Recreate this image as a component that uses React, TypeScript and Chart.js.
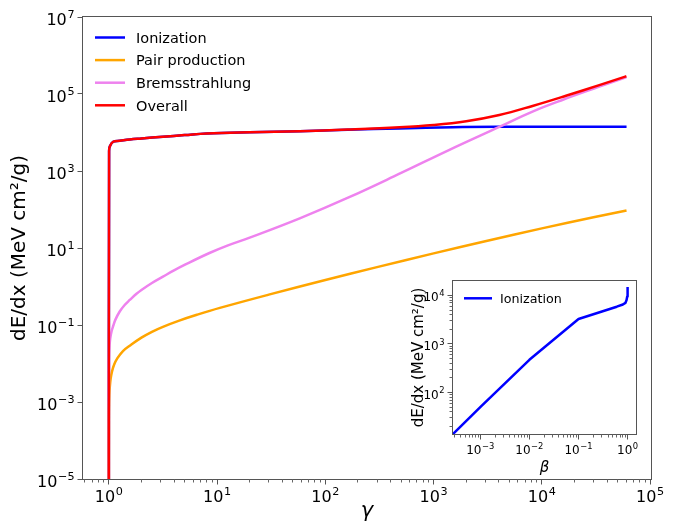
import React, { useEffect, useRef } from 'react';
import { Chart, registerables } from 'chart.js';

Chart.register(...registerables);

// ---------------- data ----------------
const ionizationGamma = [1, 1.005, 1.02, 1.096, 1.26, 1.56, 2.0, 3.16, 5.0, 8, 20, 58, 160, 484, 1500, 4000, 59000];
const ionizationValues = [1e-6, 3300, 4300, 5750, 6070, 6600, 7000, 7760, 8550, 9440, 10200, 10800, 11800, 12700, 13700, 14000, 14000];

const pairGamma = [1, 1.002, 1.005, 1.01, 1.021, 1.04, 1.07, 1.12, 1.2, 1.35, 1.56, 2.0, 2.5, 3.16, 4.47, 6.5, 10.6, 30, 100, 300, 1000, 3000, 10000, 30000, 59000];
const pairValues = [1e-6, 4.3e-4, 8.5e-4, 1.44e-3, 2.5e-3, 4.1e-3, 6.25e-3, 9.4e-3, 0.0138, 0.0211, 0.029, 0.047, 0.0667, 0.0897, 0.13, 0.184, 0.278, 0.614, 1.48, 3.19, 7.24, 15.0, 32.3, 63, 93];

const bremsGamma = [1, 1.003, 1.007, 1.015, 1.03, 1.06, 1.1, 1.15, 1.26, 1.4, 1.56, 1.8, 2.0, 2.5, 3.16, 4.0, 5.0, 8.5, 12.6, 20, 58, 166, 484, 1400, 4046, 8200, 15850, 33900, 58900];
const bremsValues = [1e-6, 0.0108, 0.018, 0.029, 0.045, 0.069, 0.097, 0.138, 0.224, 0.331, 0.447, 0.646, 0.813, 1.236, 1.8, 2.62, 3.63, 7.41, 11.7, 18.6, 59, 209, 850, 3550, 14000, 35000, 72000, 155000, 269000];

const overallGamma = [1, 1.005, 1.02, 1.096, 1.26, 1.56, 2.0, 3.16, 5.0, 8, 20, 58, 160, 484, 1000, 2000, 4046, 8200, 16700, 33900, 58900];
const overallValues = [1e-6, 3300, 4300, 5750, 6070, 6600, 7000, 7760, 8550, 9440, 10200, 10850, 11900, 13600, 15650, 19600, 28500, 49000, 90000, 170000, 283000];

const insetBeta = [2.786e-4, 1e-3, 0.01, 0.1, 0.3, 0.6, 0.8, 0.9, 0.95, 0.98, 0.99, 0.999, 0.9999, 0.99999];
const insetValues = [14, 50, 472, 3260, 4660, 5850, 6500, 7000, 8000, 9500, 10500, 12600, 13700, 14000];

// axis limits and tick exponents
const mainXMin = 0.577;
const mainXMax = 1.019e5;
const mainYMin = 1e-5;
const mainYMax = 1e7;
const mainXTickExps = [0, 1, 2, 3, 4, 5];
const mainYTickExps = [-5, -3, -1, 1, 3, 5, 7];

const insetXMin = 2.786e-4;
const insetXMax = 1.479;
const insetYMin = 14;
const insetYMax = 19770;
const insetXTickExps = [-3, -2, -1, 0];
const insetYTickExps = [2, 3, 4];

const seriesNames = ['Ionization', 'Pair production', 'Bremsstrahlung', 'Overall'];
const seriesColors = ['#0000ff', '#ffa500', '#ee82ee', '#ff0000'];

const FONT = '"DejaVu Sans", sans-serif';

function toPoints(xs: number[], ys: number[]) {
  return xs.map((x, i) => ({ x, y: ys[i] }));
}

function drawPow10(ctx: CanvasRenderingContext2D, exp: number, x: number, baseline: number, size: number, align: 'center' | 'right') {
  const base = '10';
  const sup = exp < 0 ? '\u2212' + String(-exp) : String(exp);
  const supSize = size * 0.7;
  ctx.font = `${size}px ${FONT}`;
  const wb = ctx.measureText(base).width;
  ctx.font = `${supSize}px ${FONT}`;
  const ws = ctx.measureText(sup).width;
  const gap = size * 0.04;
  const total = wb + gap + ws;
  const left = align === 'center' ? x - total / 2 : x - total;
  ctx.textAlign = 'left';
  ctx.textBaseline = 'alphabetic';
  ctx.fillStyle = '#000';
  ctx.font = `${size}px ${FONT}`;
  ctx.fillText(base, left, baseline);
  ctx.font = `${supSize}px ${FONT}`;
  ctx.fillText(sup, left + wb + gap, baseline - size * 0.42);
}

type AxesCfg = {
  xExps: number[];
  yExps: number[];
  xMinor: boolean;
  yMinor: boolean;
  tickSize: number;
  xLabelDy: number;
  yLabelDy: number;
  yLabelPad: number;
  majorLen: number;
  minorLen: number;
  xTitle: string;
  xTitleFont: string;
  xTitleBaseline: number;
  yTitle: string;
  yTitleFont: string;
  yTitleX: number;
  legend: { names: string[]; colors: string[]; x0: number; x1: number; y0: number; dy: number; textX: number; font: number };
  fillBg: boolean;
};

function minorValues(min: number, max: number) {
  const out: number[] = [];
  const e0 = Math.floor(Math.log10(min));
  const e1 = Math.ceil(Math.log10(max));
  for (let e = e0; e <= e1; e++) {
    for (let k = 2; k <= 9; k++) {
      const v = k * Math.pow(10, e);
      if (v > min && v < max) out.push(v);
    }
  }
  return out;
}

function makeAxesPlugin(id: string, cfg: AxesCfg) {
  return {
    id,
    beforeDatasetsDraw(chart: any) {
      if (!cfg.fillBg) return;
      const { ctx, chartArea: a } = chart;
      ctx.save();
      ctx.fillStyle = '#ffffff';
      ctx.fillRect(a.left, a.top, a.right - a.left, a.bottom - a.top);
      ctx.restore();
    },
    afterDatasetsDraw(chart: any) {
      const { ctx, chartArea: a, scales } = chart;
      const xs = scales.x;
      const ys = scales.y;
      ctx.save();
      // spines
      const L = Math.round(a.left) - 0.5;
      const T = Math.round(a.top) - 0.5;
      const R = Math.round(a.right) + 0.5;
      const B = Math.round(a.bottom) + 0.5;
      ctx.strokeStyle = '#555';
      ctx.lineWidth = 1;
      ctx.strokeRect(L, T, R - L, B - T);

      // major ticks
      ctx.beginPath();
      cfg.xExps.forEach((e) => {
        const px = Math.floor(xs.getPixelForValue(Math.pow(10, e))) + 0.5;
        ctx.moveTo(px, B);
        ctx.lineTo(px, B + cfg.majorLen);
      });
      cfg.yExps.forEach((e) => {
        const py = Math.floor(ys.getPixelForValue(Math.pow(10, e))) + 0.5;
        ctx.moveTo(L, py);
        ctx.lineTo(L - cfg.majorLen, py);
      });
      ctx.stroke();

      // minor ticks
      ctx.beginPath();
      ctx.strokeStyle = '#666';
      if (cfg.xMinor) {
        minorValues(xs.min, xs.max).forEach((v) => {
          const px = Math.floor(xs.getPixelForValue(v)) + 0.5;
          ctx.moveTo(px, B);
          ctx.lineTo(px, B + cfg.minorLen);
        });
      }
      if (cfg.yMinor) {
        minorValues(ys.min, ys.max).forEach((v) => {
          const py = Math.floor(ys.getPixelForValue(v)) + 0.5;
          ctx.moveTo(L, py);
          ctx.lineTo(L - cfg.minorLen, py);
        });
      }
      ctx.stroke();

      // tick labels
      cfg.xExps.forEach((e) => {
        const px = xs.getPixelForValue(Math.pow(10, e));
        drawPow10(ctx, e, px, B + cfg.xLabelDy, cfg.tickSize, 'center');
      });
      cfg.yExps.forEach((e) => {
        const py = ys.getPixelForValue(Math.pow(10, e));
        drawPow10(ctx, e, L - cfg.yLabelPad, py + cfg.yLabelDy, cfg.tickSize, 'right');
      });

      // axis titles
      ctx.fillStyle = '#000';
      ctx.font = cfg.xTitleFont;
      ctx.textAlign = 'center';
      ctx.textBaseline = 'alphabetic';
      ctx.fillText(cfg.xTitle, (a.left + a.right) / 2, cfg.xTitleBaseline);

      ctx.save();
      ctx.translate(cfg.yTitleX, (a.top + a.bottom) / 2);
      ctx.rotate(-Math.PI / 2);
      ctx.font = cfg.yTitleFont;
      ctx.textAlign = 'center';
      ctx.textBaseline = 'middle';
      ctx.fillText(cfg.yTitle, 0, 0);
      ctx.restore();

      // legend
      const lg = cfg.legend;
      lg.names.forEach((name, i) => {
        const y = lg.y0 + i * lg.dy;
        ctx.strokeStyle = lg.colors[i];
        ctx.lineWidth = 2.5;
        ctx.lineCap = 'butt';
        ctx.beginPath();
        ctx.moveTo(lg.x0, y);
        ctx.lineTo(lg.x1, y);
        ctx.stroke();
        ctx.fillStyle = '#000';
        ctx.font = `${lg.font}px ${FONT}`;
        ctx.textAlign = 'left';
        ctx.textBaseline = 'alphabetic';
        ctx.fillText(name, lg.textX, y + lg.font * 0.365);
      });
      ctx.restore();
    },
  };
}

function lineDataset(label: string, data: { x: number; y: number }[], color: string, order: number, tension: number) {
  return {
    label,
    data,
    borderColor: color,
    backgroundColor: color,
    borderWidth: 2.5,
    pointRadius: 0,
    pointHoverRadius: 0,
    fill: false,
    order,
    clip: 0,
    borderCapStyle: 'square' as const,
    borderJoinStyle: 'round' as const,
    cubicInterpolationMode: 'default' as const,
    tension,
  };
}

export default function App() {
  const mainRef = useRef<HTMLCanvasElement>(null);
  const insetRef = useRef<HTMLCanvasElement>(null);

  useEffect(() => {
    if (!mainRef.current || !insetRef.current) return;

    const mainChart = new Chart(mainRef.current, {
      type: 'line',
      data: {
        datasets: [
          lineDataset(seriesNames[0], toPoints(ionizationGamma, ionizationValues), seriesColors[0], 4, 0.4),
          lineDataset(seriesNames[1], toPoints(pairGamma, pairValues), seriesColors[1], 3, 0.4),
          lineDataset(seriesNames[2], toPoints(bremsGamma, bremsValues), seriesColors[2], 2, 0.4),
          lineDataset(seriesNames[3], toPoints(overallGamma, overallValues), seriesColors[3], 1, 0.4),
        ] as any,
      },
      options: {
        responsive: false,
        animation: false,
        devicePixelRatio: 1,
        events: [],
        layout: { padding: { left: 83, top: 17, right: 25, bottom: 46 } },
        plugins: { legend: { display: false }, tooltip: { enabled: false } },
        scales: {
          x: { type: 'logarithmic', min: mainXMin, max: mainXMax, display: false, bounds: 'data' },
          y: { type: 'logarithmic', min: mainYMin, max: mainYMax, display: false, bounds: 'data' },
        },
      } as any,
      plugins: [
        makeAxesPlugin('mainAxes', {
          xExps: mainXTickExps,
          yExps: mainYTickExps,
          xMinor: true,
          yMinor: false,
          tickSize: 16,
          xLabelDy: 22.5,
          yLabelDy: 8,
          yLabelPad: 8,
          majorLen: 5,
          minorLen: 3,
          xTitle: '\u03b3',
          xTitleFont: `italic 21px ${FONT}`,
          xTitleBaseline: 517,
          yTitle: 'dE/dx (MeV cm\u00b2/g)',
          yTitleFont: `20px ${FONT}`,
          yTitleX: 20,
          legend: { names: seriesNames, colors: seriesColors, x0: 95, x1: 125, y0: 37.5, dy: 22.6, textX: 136, font: 14.5 },
          fillBg: false,
        }),
      ],
    });

    const insetChart = new Chart(insetRef.current, {
      type: 'line',
      data: {
        datasets: [lineDataset(seriesNames[0], toPoints(insetBeta, insetValues), seriesColors[0], 1, 0)] as any,
      },
      options: {
        responsive: false,
        animation: false,
        devicePixelRatio: 1,
        events: [],
        layout: { padding: { left: 63, top: 11, right: 14, bottom: 46 } },
        plugins: { legend: { display: false }, tooltip: { enabled: false } },
        scales: {
          x: { type: 'logarithmic', min: insetXMin, max: insetXMax, display: false, bounds: 'data' },
          y: { type: 'logarithmic', min: insetYMin, max: insetYMax, display: false, bounds: 'data' },
        },
      } as any,
      plugins: [
        makeAxesPlugin('insetAxes', {
          xExps: insetXTickExps,
          yExps: insetYTickExps,
          xMinor: true,
          yMinor: true,
          tickSize: 12,
          xLabelDy: 19.5,
          yLabelDy: 6,
          yLabelPad: 8,
          majorLen: 5,
          minorLen: 3,
          xTitle: '\u03b2',
          xTitleFont: `italic 15px ${FONT}`,
          xTitleBaseline: 202,
          yTitle: 'dE/dx (MeV cm\u00b2/g)',
          yTitleFont: `15px ${FONT}`,
          yTitleX: 29,
          legend: { names: [seriesNames[0]], colors: [seriesColors[0]], x0: 74, x1: 102, y0: 28.3, dy: 0, textX: 110, font: 12.7 },
          fillBg: true,
        }),
      ],
    });

    return () => {
      mainChart.destroy();
      insetChart.destroy();
    };
  }, []);

  return (
    <div style={{ position: 'absolute', left: 0, top: 0, width: 676, height: 525, background: '#ffffff' }}>
      <canvas ref={mainRef} width={676} height={525} style={{ position: 'absolute', left: 0, top: 0 }} />
      <canvas ref={insetRef} width={260} height={210} style={{ position: 'absolute', left: 390, top: 270 }} />
    </div>
  );
}
